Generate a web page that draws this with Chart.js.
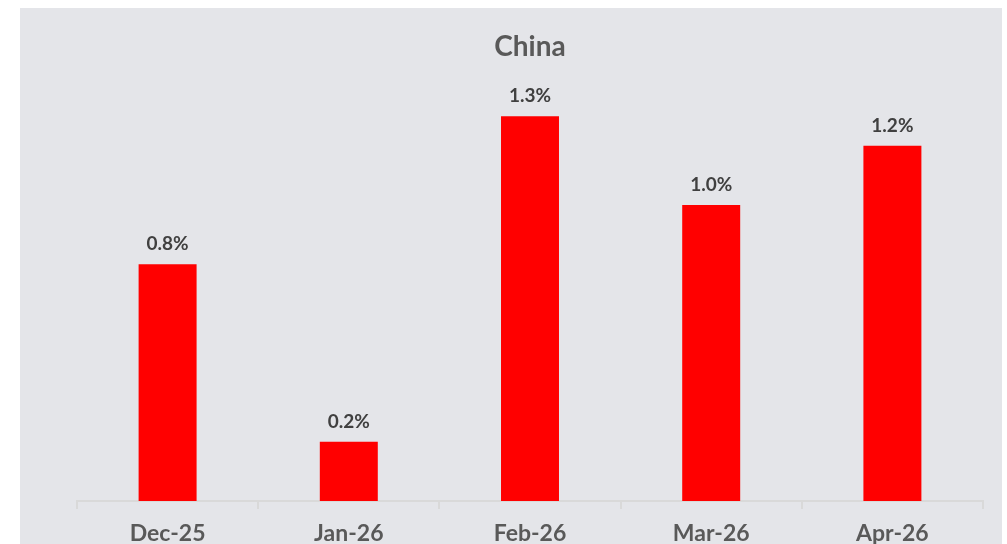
<!DOCTYPE html>
<html>
<head>
<meta charset="utf-8">
<script src="https://cdn.jsdelivr.net/npm/chart.js@4.4.1/dist/chart.umd.min.js"></script>
<style>
  html, body { margin: 0; padding: 0; background: #ffffff; }
  #wrap { position: absolute; left: 20px; top: 8px; width: 982px; height: 536px; background: #e4e5e9; }
</style>
</head>
<body>
<div id="wrap"><canvas id="china"></canvas></div>
<script>
  // values (percent)
  var months = ['Dec-25', 'Jan-26', 'Feb-26', 'Mar-26', 'Apr-26'];
  var chinaValues = [0.8, 0.2, 1.3, 1.0, 1.2];

  // labels over the bars
  var barLabels = {
    id: 'barLabels',
    afterDatasetsDraw: function (chart) {
      var ctx = chart.ctx;
      var meta = chart.getDatasetMeta(0);
      ctx.save();
      ctx.font = 'bold 19px Lato';
      ctx.fillStyle = '#404040';
      ctx.textAlign = 'center';
      ctx.textBaseline = 'alphabetic';
      meta.data.forEach(function (bar, i) {
        ctx.fillText(chinaValues[i].toFixed(1) + '%', bar.x, bar.y - 14);
      });
      ctx.restore();
    }
  };

  var ctx = document.getElementById('china');
  new Chart(ctx, {
    type: 'bar',
    data: {
      labels: months,
      datasets: [
        {
          data: chinaValues,
          backgroundColor: '#ff0000',
          categoryPercentage: 1,
          barPercentage: 0.32
        }
      ]
    },
    options: {
      responsive: true,
      maintainAspectRatio: false,
      animation: false,
      layout: {
        padding: { left: 57, right: 19, top: 0, bottom: 0 }
      },
      plugins: {
        legend: { display: false },
        tooltip: { enabled: false },
        title: {
          display: true,
          text: 'China',
          color: '#595959',
          font: { family: 'Lato', size: 28, weight: 'bold' },
          padding: { top: 22, bottom: 23 }
        }
      },
      scales: {
        x: {
          afterFit: function (scale) { scale.height = 43; },
          border: { color: '#d9d9d9', width: 2 },
          grid: {
            drawOnChartArea: false,
            color: '#d9d9d9',
            lineWidth: 2,
            tickLength: 8
          },
          ticks: {
            color: '#595959',
            padding: 11,
            maxRotation: 0,
            font: { family: 'Lato', size: 23, weight: 'bold' }
          }
        },
        y: {
          display: false,
          min: 0,
          max: 1.4
        }
      }
    },
    plugins: [barLabels]
  });
</script>
</body>
</html>
